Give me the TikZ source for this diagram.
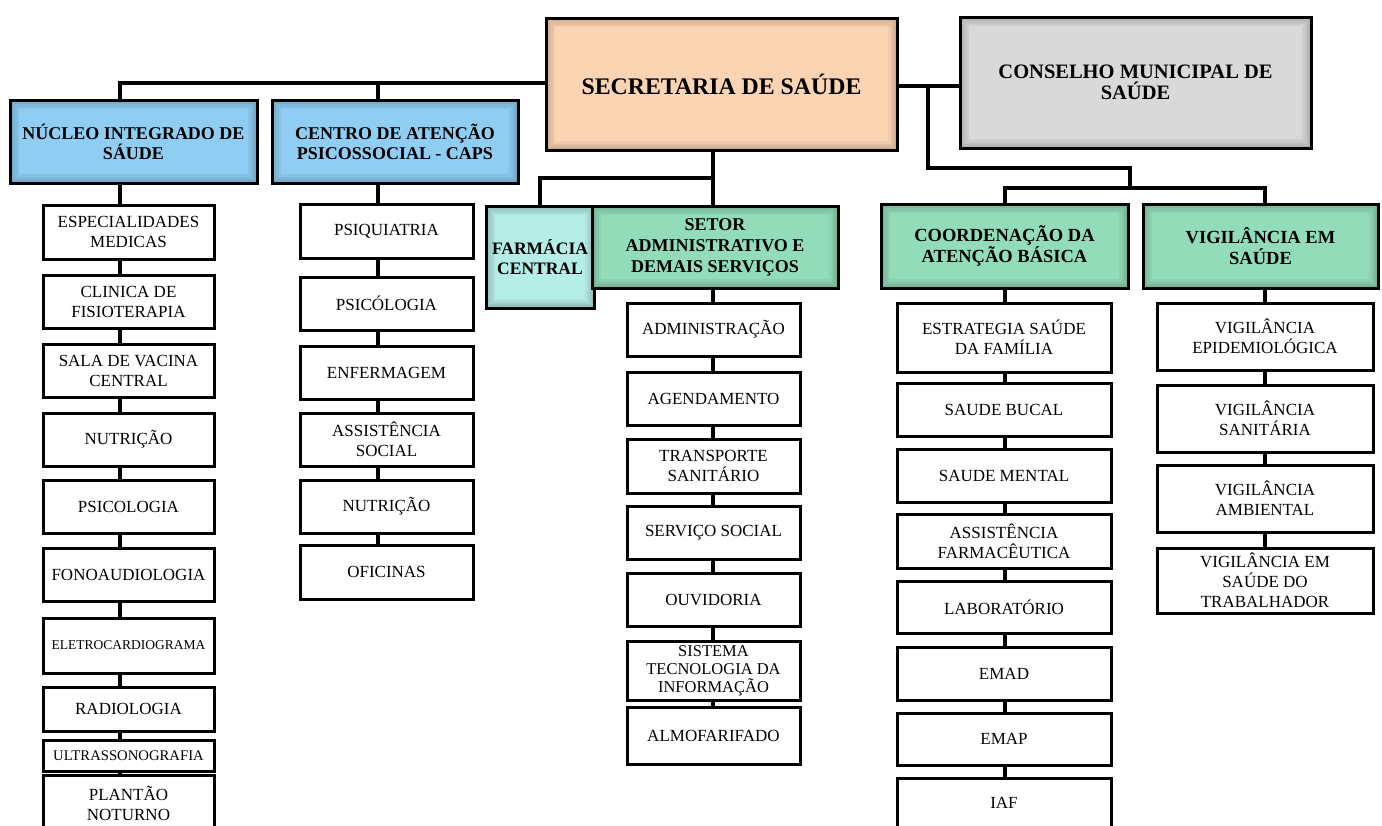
\documentclass[tikz,border=0pt]{standalone}
\usepackage{fontspec}
\setmainfont{Liberation Serif}
\definecolor{peach}{HTML}{FBD4B4}
\definecolor{grayc}{HTML}{D9D9D9}
\definecolor{bluec}{HTML}{8FCDF3}
\definecolor{greenc}{HTML}{93DCBA}
\definecolor{cyanc}{HTML}{B5EDE7}
\tikzset{
  box/.style={draw=black, line width=3pt, fill=white, inner sep=0pt, outer sep=0pt, align=center,
    font=\fontsize{17}{20}\selectfont},
  hdr/.style={box, font=\bfseries\fontsize{18}{20}\selectfont},
  ghdr/.style={box, fill=greenc, font=\bfseries\fontsize{18.5}{21}\selectfont},
  conn/.style={draw=black, line width=3.5pt, line join=miter},
}
\newcommand\bx[7]{\node[#6, minimum width={#4-#2}, minimum height={#5-#3}] (#1) at ({(#2+#4)/2},{(#3+#5)/2}) {#7};}
\newcommand\glow[1]{\begin{scope}\clip (#1.south west) rectangle (#1.north east);
  \foreach \w in {18,13,8,4} \draw[line width=\w pt, black, opacity=0.05] (#1.south west) rectangle (#1.north east);
  \end{scope}}
\begin{document}
\begin{tikzpicture}[x=1pt,y=-1pt]
\useasboundingbox (0,0) rectangle (1382,825);
\fill[white] (0,0) rectangle (1382,825);
% headers
\bx{sec}{546}{18}{897}{150}{box, fill=peach, font=\bfseries\fontsize{23.8}{26}\selectfont}{SECRETARIA DE SAÚDE}
\bx{cons}{960}{17}{1311}{148}{box, fill=grayc, font=\bfseries\fontsize{20.5}{21}\selectfont}{CONSELHO MUNICIPAL DE\\SAÚDE}
\bx{nuc}{10}{100}{257}{183}{hdr, fill=bluec}{NÚCLEO INTEGRADO DE\\SÁUDE}
\bx{caps}{272}{100}{518}{183}{hdr, fill=bluec}{CENTRO DE ATENÇÃO\\PSICOSSOCIAL - CAPS}
\bx{far}{486}{206}{594}{308}{box, fill=cyanc, font=\bfseries\fontsize{17.5}{20}\selectfont}{FARMÁCIA\\CENTRAL}
\bx{set}{592}{206}{838}{288}{ghdr, font=\bfseries\fontsize{18}{21}\selectfont}{SETOR\\ADMINISTRATIVO E\\DEMAIS SERVIÇOS}
\bx{coo}{881}{204}{1128}{288}{ghdr}{COORDENAÇÃO DA\\ATENÇÃO BÁSICA}
\bx{vig}{1143}{204}{1378}{288}{ghdr}{VIGILÂNCIA EM\\SAÚDE}
\foreach \n in {sec,cons,nuc,caps,far,set,coo,vig} {\glow{\n}}
% Nucleo children
\bx{n1}{43}{205}{214}{259}{box}{ESPECIALIDADES\\MEDICAS}
\bx{n2}{43}{275}{214}{328}{box}{CLINICA DE\\FISIOTERAPIA}
\bx{n3}{43}{344}{214}{397}{box}{SALA DE VACINA\\CENTRAL}
\bx{n4}{43}{413}{214}{466}{box}{NUTRIÇÃO}
\bx{n5}{43}{480}{214}{533}{box}{PSICOLOGIA}
\bx{n6}{43}{548}{214}{601}{box}{FONOAUDIOLOGIA}
\bx{n7}{43}{618}{214}{673}{box, font=\fontsize{13.5}{16}\selectfont}{ELETROCARDIOGRAMA}
\bx{n8}{43}{687}{214}{731}{box}{RADIOLOGIA}
\bx{n9}{43}{740}{214}{771}{box, font=\fontsize{14.7}{16}\selectfont}{ULTRASSONOGRAFIA}
\bx{n10}{43}{775}{214}{832}{box}{PLANTÃO\\NOTURNO}
% CAPS children
\bx{c1}{300}{204}{473}{258}{box}{PSIQUIATRIA}
\bx{c2}{300}{277}{473}{330}{box}{PSICÓLOGIA}
\bx{c3}{300}{346}{473}{399}{box}{ENFERMAGEM}
\bx{c4}{300}{413}{473}{466}{box}{ASSISTÊNCIA\\SOCIAL}
\bx{c5}{300}{480}{473}{533}{box}{NUTRIÇÃO}
\bx{c6}{300}{545}{473}{599}{box}{OFICINAS}
% Setor children
\bx{s1}{627}{303}{800}{356}{box}{ADMINISTRAÇÃO}
\bx{s2}{627}{372}{800}{425}{box}{AGENDAMENTO}
\bx{s3}{627}{439}{800}{493}{box}{TRANSPORTE\\SANITÁRIO}
\bx{s4}{627}{506}{800}{559}{box}{SERVIÇO SOCIAL}
\bx{s5}{627}{573}{800}{626}{box}{OUVIDORIA}
\bx{s6}{627}{641}{800}{700}{box, font=\fontsize{16.5}{18}\selectfont}{SISTEMA\\TECNOLOGIA DA\\INFORMAÇÃO}
\bx{s7}{627}{707}{800}{764}{box}{ALMOFARIFADO}
% Coordenacao children
\bx{a1}{897}{303}{1111}{372}{box}{ESTRATEGIA SAÚDE\\DA FAMÍLIA}
\bx{a2}{897}{383}{1111}{436}{box}{SAUDE BUCAL}
\bx{a3}{897}{449}{1111}{502}{box}{SAUDE MENTAL}
\bx{a4}{897}{514}{1111}{568}{box}{ASSISTÊNCIA\\FARMACÊUTICA}
\bx{a5}{897}{581}{1111}{633}{box}{LABORATÓRIO}
\bx{a6}{897}{647}{1111}{700}{box}{EMAD}
\bx{a7}{897}{713}{1111}{765}{box}{EMAP}
\bx{a8}{897}{778}{1111}{828}{box}{IAF}
% Vigilancia children
\bx{v1}{1157}{303}{1373}{370}{box}{VIGILÂNCIA\\EPIDEMIOLÓGICA}
\bx{v2}{1157}{385}{1373}{452}{box}{VIGILÂNCIA\\SANITÁRIA}
\bx{v3}{1157}{465}{1373}{532}{box}{VIGILÂNCIA\\AMBIENTAL}
\bx{v4}{1157}{548}{1373}{613}{box}{VIGILÂNCIA EM\\SAÚDE DO\\TRABALHADOR}
% connector columns
\coordinate (cN) at (120,0);
\coordinate (cC) at (378,0);
\coordinate (cS) at (713,0);
\coordinate (cA) at (1005,0);
\coordinate (cV) at (1265,0);
\coordinate (jL) at (120,83);
\coordinate (jR1) at (928,86);
\coordinate (jR2) at (928,168);
\coordinate (jR3) at (1130,168);
\coordinate (jR4) at (1130,188);
\coordinate (jB) at (713,178);
% top-level connectors
\draw[conn] (sec.west |- jL) -- (jL) -- (nuc.north -| jL);
\draw[conn] (cC |- jL) -- (caps.north -| cC);
\draw[conn] (sec.east |- jR1) -- (cons.west |- jR1);
\draw[conn] (jR1) -- (jR2) -- (jR3) -- (jR4);
\draw[conn] (coo.north -| cA) -- (jR4 -| cA) -- (jR4 -| cV) -- (vig.north -| cV);
\draw[conn] (sec.south -| cS) -- (jB) -- (jB -| far.north) -- (far.north);
\draw[conn] (jB) -- (set.north -| cS);
% chains
\foreach \a/\b in {nuc/n1,n1/n2,n2/n3,n3/n4,n4/n5,n5/n6,n6/n7,n7/n8,n8/n9,n9/n10}
  \draw[conn] (\a.south -| cN) -- (\b.north -| cN);
\foreach \a/\b in {caps/c1,c1/c2,c2/c3,c3/c4,c4/c5,c5/c6}
  \draw[conn] (\a.south -| cC) -- (\b.north -| cC);
\foreach \a/\b in {set/s1,s1/s2,s2/s3,s3/s4,s4/s5,s5/s6,s6/s7}
  \draw[conn] (\a.south -| cS) -- (\b.north -| cS);
\foreach \a/\b in {coo/a1,a1/a2,a2/a3,a3/a4,a4/a5,a5/a6,a6/a7,a7/a8}
  \draw[conn] (\a.south -| cA) -- (\b.north -| cA);
\foreach \a/\b in {vig/v1,v1/v2,v2/v3,v3/v4}
  \draw[conn] (\a.south -| cV) -- (\b.north -| cV);
\end{tikzpicture}
\end{document}
